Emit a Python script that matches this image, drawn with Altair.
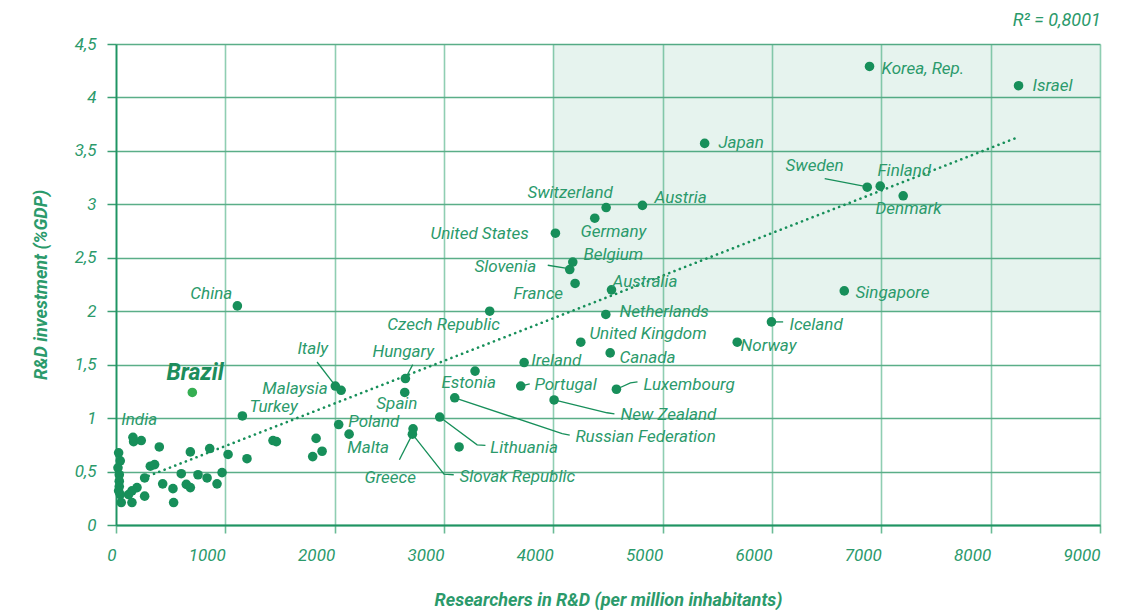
import altair as alt
import pandas as pd

# Labelled countries: researchers per million inhabitants, R&D investment (% GDP)
countries = ["Korea, Rep.", "Israel", "Japan", "Sweden", "Finland", "Denmark",
             "Switzerland", "Austria", "Germany", "United States", "Belgium",
             "Slovenia", "France", "Australia", "Czech Republic", "Netherlands",
             "United Kingdom", "Canada", "Ireland", "Singapore", "Iceland", "Norway",
             "Luxembourg", "Portugal", "New Zealand", "Estonia", "Russian Federation",
             "Lithuania", "Slovak Republic", "Greece", "Hungary", "Spain", "Italy",
             "Malaysia", "Poland", "Malta", "China", "Turkey", "India"]
researchers = [6892, 8255, 5384, 6871, 6990, 7200,
               4483, 4815, 4379, 4019, 4178,
               4150, 4199, 4532, 3418, 4480,
               4251, 4520, 3733, 6661, 5995, 5682,
               4577, 3702, 4007, 3284, 3098,
               2961, 2717, 2711, 2647, 2641, 2006,
               2059, 2037, 2132, 1110, 1156, 155]
rd_invest = [4.29, 4.11, 3.57, 3.16, 3.17, 3.08,
             2.97, 2.99, 2.87, 2.73, 2.46,
             2.39, 2.26, 2.20, 2.00, 1.97,
             1.71, 1.61, 1.52, 2.19, 1.90, 1.71,
             1.27, 1.30, 1.17, 1.44, 1.19,
             1.01, 0.90, 0.85, 1.37, 1.24, 1.30,
             1.26, 0.94, 0.85, 2.05, 1.02, 0.82]

# Brazil (highlighted)
brazil_x = [698]
brazil_y = [1.24]

# Unlabelled countries
other_x = [161, 231, 396, 680, 857, 1025, 1198, 1436, 1467, 24, 39, 18, 30, 30, 30,
           314, 353, 262, 597, 750, 833, 970, 427, 521, 643, 680, 924, 192, 146,
           115, 262, 39, 48, 146, 527, 24, 1830, 1885, 1799, 3138]
other_y = [0.78, 0.79, 0.73, 0.684, 0.715, 0.66, 0.62, 0.79, 0.78, 0.675, 0.60, 0.535,
           0.47, 0.41, 0.36, 0.55, 0.565, 0.44, 0.48, 0.47, 0.44, 0.49, 0.385, 0.34,
           0.38, 0.35, 0.385, 0.35, 0.32, 0.285, 0.27, 0.285, 0.21, 0.21, 0.21, 0.32,
           0.81, 0.69, 0.64, 0.73]

# Label anchor points (data units)
label_text = countries
label_x = [7002, 8383, 5510, 6124, 6965, 6947,
           3763, 4925, 4248, 2876, 4275,
           3278, 3635, 4541, 2482, 4605,
           4330, 4605, 3799, 6764, 6160, 5712,
           4824, 3827, 4614, 2976, 4202,
           3424, 3141, 2272, 2345, 2381, 1659,
           1338, 2125, 2116, 680, 1220, 48]
label_y = [4.27, 4.11, 3.57, 3.36, 3.31, 2.96,
           3.11, 3.06, 2.74, 2.72, 2.53,
           2.41, 2.16, 2.27, 1.87, 1.99,
           1.79, 1.56, 1.53, 2.17, 1.87, 1.67,
           1.31, 1.31, 1.03, 1.33, 0.82,
           0.72, 0.45, 0.44, 1.62, 1.135, 1.65,
           1.27, 0.965, 0.72, 2.16, 1.10, 0.98]
brazil_label = ["Brazil"]
brazil_label_x = [461]
brazil_label_y = [1.42]

# Leader lines (polylines, data units)
leader_name = ["Sweden", "Sweden", "Slovenia", "Slovenia", "Iceland", "Iceland",
               "Luxembourg", "Luxembourg", "Luxembourg", "Portugal", "Portugal",
               "New Zealand", "New Zealand", "New Zealand",
               "Russian Federation", "Russian Federation", "Russian Federation",
               "Lithuania", "Lithuania", "Lithuania",
               "Slovak Republic", "Slovak Republic", "Slovak Republic",
               "Greece", "Greece", "Hungary", "Hungary", "Italy", "Italy"]
leader_x = [6482, 6838, 3949, 4126, 5995, 6102,
            4577, 4705, 4770, 3702, 3784,
            4007, 4492, 4559,
            3098, 4081, 4150,
            2961, 3303, 3379,
            2711, 3000, 3089,
            2711, 2592, 2647, 2714, 1839, 2000]
leader_y = [3.24, 3.17, 2.43, 2.40, 1.90, 1.90,
            1.27, 1.33, 1.34, 1.30, 1.32,
            1.17, 1.05, 1.04,
            1.19, 0.855, 0.84,
            1.01, 0.75, 0.745,
            0.85, 0.475, 0.47,
            0.85, 0.61, 1.37, 1.50, 1.525, 1.31]
leader_order = [0, 1, 0, 1, 0, 1, 0, 1, 2, 0, 1, 0, 1, 2, 0, 1, 2, 0, 1, 2, 0, 1, 2, 0, 1, 0, 1, 0, 1]

# Trend line end points
trend_x = [250, 8255]
trend_y = [0.44, 3.63]

# Highlighted region
shade_x = [4000]
shade_x2 = [9000]
shade_y = [2.0]
shade_y2 = [4.5]

x_ticks = [0, 1000, 2000, 3000, 4000, 5000, 6000, 7000, 8000, 9000]
y_ticks = [0, 0.5, 1, 1.5, 2, 2.5, 3, 3.5, 4, 4.5]

DOT = "#178f5a"
TXT = "#2b9a6b"
FONT = "Roboto"

pts = pd.DataFrame({"name": countries, "x": researchers, "y": rd_invest})
oth = pd.DataFrame({"x": other_x, "y": other_y})
bra = pd.DataFrame({"x": brazil_x, "y": brazil_y})
lab = pd.DataFrame({"name": label_text, "x": label_x, "y": label_y})
blab = pd.DataFrame({"name": brazil_label, "x": brazil_label_x, "y": brazil_label_y})
lead = pd.DataFrame({"name": leader_name, "x": leader_x, "y": leader_y, "o": leader_order})
trend = pd.DataFrame({"x": trend_x, "y": trend_y})
shade = pd.DataFrame({"x": shade_x, "x2": shade_x2, "y": shade_y, "y2": shade_y2})

xscale = alt.Scale(domain=[0, 9000], nice=False, zero=False)
yscale = alt.Scale(domain=[0, 4.5], nice=False)

xaxis = alt.Axis(values=x_ticks, format="d", title="Researchers in R&D (per million inhabitants)",
                 labelAlign="right", labelPadding=14, tickSize=8,
                 gridColor="#8fceb2", gridWidth=1.6, domainColor="#1f9463", domainWidth=1.8,
                 tickColor="#6bbb96", tickWidth=1.6, titlePadding=28)
yaxis = alt.Axis(values=y_ticks, title="R&D investment (%GDP)",
                 labelExpr="replace(toString(datum.value), '.', ',')",
                 tickSize=9, labelPadding=11, gridColor="#5aae88", gridWidth=1.4,
                 domainColor="#1f9463", domainWidth=1.8, tickColor="#3a9f73",
                 tickWidth=1.5, titlePadding=24)

shade_layer = alt.Chart(shade).mark_rect(color="#1a9060", opacity=0.11).encode(
    x=alt.X("x:Q", scale=xscale, axis=xaxis), x2="x2:Q",
    y=alt.Y("y:Q", scale=yscale, axis=yaxis), y2="y2:Q")

trend_layer = alt.Chart(trend).mark_line(color=DOT, strokeWidth=2.6, strokeDash=[0.1, 5.6],
                                         strokeCap="round").encode(x="x:Q", y="y:Q")

lead_layer = alt.Chart(lead).mark_line(color=DOT, strokeWidth=1.3).encode(
    x="x:Q", y="y:Q", detail="name:N", order="o:Q")

other_layer = alt.Chart(oth).mark_circle(color=DOT, size=92, opacity=1).encode(x="x:Q", y="y:Q")
pts_layer = alt.Chart(pts).mark_circle(color=DOT, size=92, opacity=1).encode(x="x:Q", y="y:Q")
bra_layer = alt.Chart(bra).mark_circle(color="#35ae52", size=92, opacity=1).encode(x="x:Q", y="y:Q")

lab_layer = alt.Chart(lab).mark_text(align="left", baseline="middle", font=FONT,
                                     fontStyle="italic", fontSize=17, color=TXT).encode(
    x="x:Q", y="y:Q", text="name:N")
blab_layer = alt.Chart(blab).mark_text(align="left", baseline="middle", font=FONT,
                                       fontStyle="italic", fontWeight="bold", fontSize=23,
                                       color="#1d8d5c").encode(x="x:Q", y="y:Q", text="name:N")

chart = alt.layer(shade_layer, trend_layer, lead_layer, other_layer, pts_layer, bra_layer,
                  lab_layer, blab_layer).properties(
    width=984, height=481,
    title=alt.TitleParams("R² = 0,8001", anchor="end", font=FONT, fontStyle="italic",
                          fontWeight="normal", fontSize=18, color=TXT, offset=5),
    autosize=alt.AutoSizeParams(type="none"),
    padding={"left": 108, "top": 36, "right": 20, "bottom": 85},
).configure_view(stroke=None).configure_axis(
    labelFont=FONT, labelFontStyle="italic", labelFontSize=17, labelColor=TXT,
    titleFont=FONT, titleFontStyle="italic", titleFontWeight="bold", titleFontSize=18,
    titleColor=TXT,
)

chart.save("out.html", embed_options={"renderer": "svg", "actions": False})
